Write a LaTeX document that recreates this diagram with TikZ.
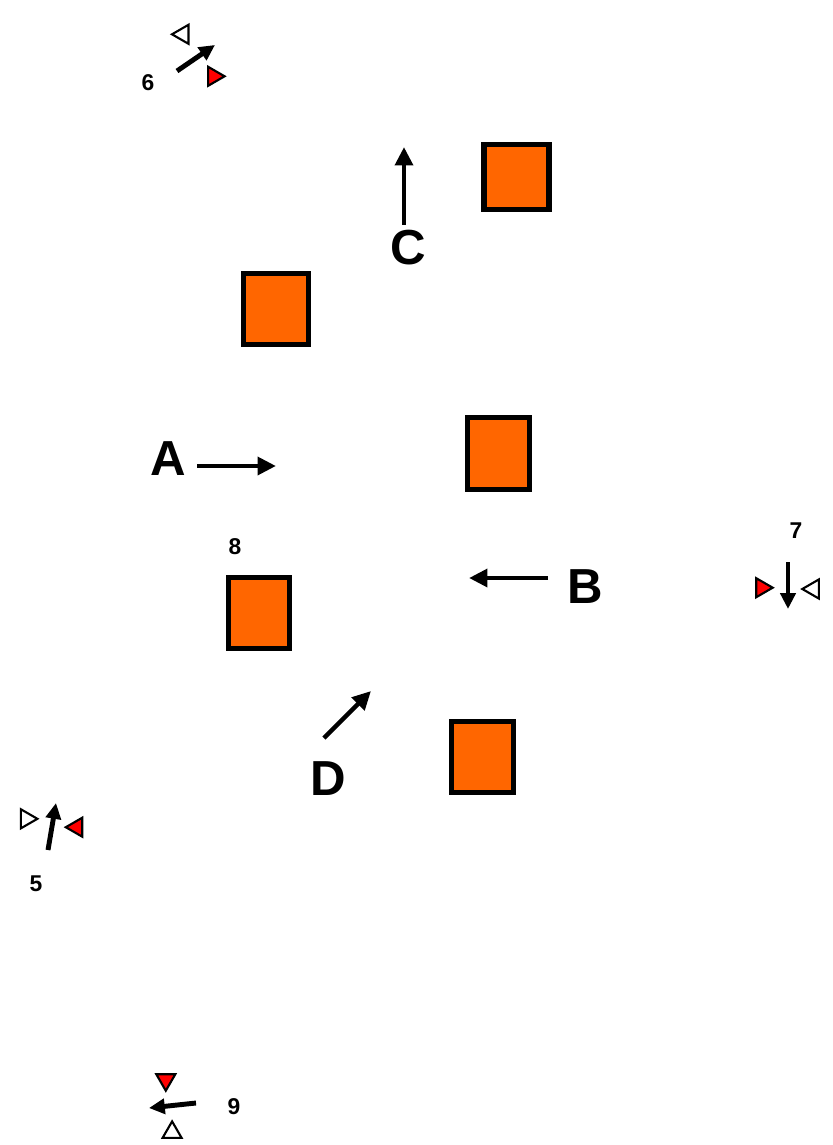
\documentclass[tikz,border=0pt]{standalone}
\usepackage{fontspec}
\setmainfont{Liberation Sans}
\usetikzlibrary{arrows.meta, shapes.geometric}
\definecolor{boxorange}{HTML}{FF6600}

\begin{document}
\begin{tikzpicture}[x=0.02cm,y=-0.02cm,
    box/.style={draw,line width=2.9pt,fill=boxorange,inner sep=0pt},
    mv/.style={line width=2.6pt,-{Triangle[length=10.5pt,width=10pt]}},
    sv/.style={line width=2.8pt,-{Triangle[length=9pt,width=8.5pt]}},
    big/.style={font=\fontsize{28}{30}\selectfont\bfseries},
    num/.style={font=\fontsize{13}{15}\selectfont\bfseries},
    tri/.style={regular polygon,regular polygon sides=3,minimum size=0.44cm,
      inner sep=0pt,draw,line width=1.2pt},
    redtri/.style={tri,fill=red},
    opentri/.style={tri,fill=white}]
      \useasboundingbox (0,0) rectangle (832,1145);
      \node[box,minimum width=1.30cm,minimum height=1.30cm] (s1) at (516.5,177) {};
      \node[box,minimum width=1.30cm,minimum height=1.42cm] (s2) at (276,309) {};
      \node[box,minimum width=1.24cm,minimum height=1.44cm] (s3) at (498.3,453.3) {};
      \node[box,minimum width=1.22cm,minimum height=1.42cm] (s4) at (259,613) {};
      \node[box,minimum width=1.24cm,minimum height=1.42cm] (s5) at (482.5,757) {};
      \node[big] (lA) at (168,459) {A};
      \node[big] (lB) at (585,587) {B};
      \node[big] (lC) at (408,248) {C};
      \node[big] (lD) at (328,779) {D};
      \coordinate (a0) at (197,466); \coordinate (a1) at (276,466);
      \coordinate (b0) at (548,578); \coordinate (b1) at (469,578);
      \coordinate (c0) at (404,225); \coordinate (c1) at (404,147);
      \coordinate (d0) at (324,738); \coordinate (d1) at (371,691);
      \path[mv] (a0) edge (a1)
        (b0) edge (b1)
        (c0) edge (c1)
        (d0) edge (d1);
      \node[num] (n6) at (148,83) {6};
      \node[num] (n7) at (796,531) {7};
      \node[num] (n5) at (36,884) {5};
      \node[num] (n8) at (235,547) {8};
      \node[num] (n9) at (234,1107) {9};
      \node[opentri,shape border rotate=90] (w6) at (183,34.3) {};
      \node[redtri,shape border rotate=-90] (r6) at (213.6,76.3) {};
      \node[redtri,shape border rotate=-90] (r7) at (761.7,587.7) {};
      \node[opentri,shape border rotate=90] (w7) at (813.3,589) {};
      \node[opentri,shape border rotate=-90] (w5) at (26.4,818.8) {};
      \node[redtri,shape border rotate=90] (r5) at (76.8,827.2) {};
      \node[redtri,shape border rotate=180] (r9) at (165.8,1079.7) {};
      \node[opentri] (w9) at (172.1,1132.4) {};
      \coordinate (e6) at (177,71); \coordinate (f6) at (215,45);
      \coordinate (e7) at (788,562); \coordinate (f7) at (788,609);
      \coordinate (e5) at (48,850); \coordinate (f5) at (56,803);
      \coordinate (e9) at (196,1103); \coordinate (f9) at (149,1108);
      \path[sv] (e6) edge (f6)
        (e7) edge (f7)
        (e5) edge (f5)
        (e9) edge (f9);
    \end{tikzpicture}
\end{document}
